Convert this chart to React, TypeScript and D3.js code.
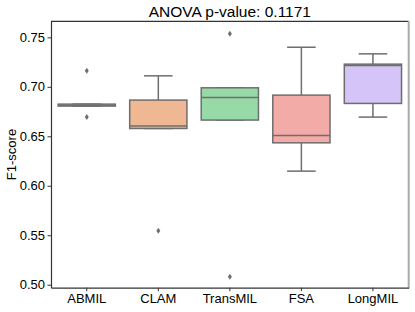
import React, { useRef, useEffect } from 'react';
import * as d3 from 'd3';

// Box statistics
const models = ['ABMIL', 'CLAM', 'TransMIL', 'FSA', 'LongMIL'];
const q1 = [0.6806, 0.6579, 0.6664, 0.6434, 0.6832];
const medians = [0.6812, 0.6603, 0.6892, 0.6508, 0.7215];
const q3 = [0.6825, 0.6866, 0.699, 0.6916, 0.7229];
const whiskerLow = [0.6806, 0.6579, 0.6664, 0.6148, 0.6694];
const whiskerHigh = [0.6825, 0.7111, 0.699, 0.740, 0.7333];
const outliers = [[0.7162, 0.6694], [0.5545], [0.7536, 0.5081], [], []];
const yTicks = [0.5, 0.55, 0.6, 0.65, 0.7, 0.75];

// seaborn pastel, desaturated at 0.75
const boxColors = ['#abc9ea', '#efb792', '#98daa7', '#f3aba8', '#d4c4f7'];
const lineColor = '#6e6e6e';

const App = () => {
  const svgRef = useRef<SVGSVGElement | null>(null);
  const width = 415;
  const height = 312;

  useEffect(() => {
    if (!svgRef.current) return;
    const svg = d3.select(svgRef.current);
    svg.selectAll('*').remove();

    const left = 51, right = 408.7, top = 21.3, bottom = 287.7;
    const font = 'Liberation Sans, Arial, sans-serif';

    const x = d3.scaleBand().domain(models).range([left, right]).padding(0);
    const y = d3.scaleLinear().domain([0.497, 0.7662]).range([bottom, top]);
    const boxW = x.bandwidth() * 0.8;

    const stats = models.map((m, i) => ({
      name: m, q1: q1[i], med: medians[i], q3: q3[i],
      lo: whiskerLow[i], hi: whiskerHigh[i], out: outliers[i], color: boxColors[i],
    }));

    // axes frame
    svg.append('line').attr('x1', left).attr('x2', right).attr('y1', top).attr('y2', top)
      .attr('stroke', '#333').attr('stroke-width', 1.2);
    svg.append('line').attr('x1', right).attr('x2', right).attr('y1', top).attr('y2', bottom)
      .attr('stroke', '#aaa').attr('stroke-width', 2);

    // boxes
    stats.forEach(d => {
      const cx = x(d.name)! + x.bandwidth() / 2;
      const g = svg.append('g');
      // whiskers
      g.append('line').attr('x1', cx).attr('x2', cx).attr('y1', y(d.q3)).attr('y2', y(d.hi))
        .attr('stroke', lineColor).attr('stroke-width', 1.5);
      g.append('line').attr('x1', cx).attr('x2', cx).attr('y1', y(d.q1)).attr('y2', y(d.lo))
        .attr('stroke', lineColor).attr('stroke-width', 1.5);
      // caps
      [d.lo, d.hi].forEach(v => {
        g.append('line').attr('x1', cx - boxW / 4).attr('x2', cx + boxW / 4)
          .attr('y1', y(v)).attr('y2', y(v))
          .attr('stroke', lineColor).attr('stroke-width', 1.5);
      });
      g.append('rect')
        .attr('x', cx - boxW / 2).attr('width', boxW)
        .attr('y', y(d.q3)).attr('height', Math.max(0.5, y(d.q1) - y(d.q3)))
        .attr('fill', d.color).attr('stroke', lineColor).attr('stroke-width', 1.5);
      g.append('line').attr('x1', cx - boxW / 2).attr('x2', cx + boxW / 2)
        .attr('y1', y(d.med)).attr('y2', y(d.med))
        .attr('stroke', lineColor).attr('stroke-width', 1.5);
      // outliers as thin diamonds
      d.out.forEach(v => {
        const py = y(v);
        g.append('path')
          .attr('d', `M${cx},${py - 3} L${cx + 2},${py} L${cx},${py + 3} L${cx - 2},${py} Z`)
          .attr('fill', lineColor);
      });
    });

    // left axis
    const yAxis = svg.append('g').attr('transform', `translate(${left},0)`)
      .call(d3.axisLeft(y).tickValues(yTicks).tickFormat(d3.format('.2f')).tickSize(3.5).tickSizeOuter(0));
    yAxis.select('.domain').attr('stroke', '#333').attr('stroke-width', 1.2);
    yAxis.selectAll('.tick line').attr('stroke', '#333');
    yAxis.selectAll('.tick text').attr('font-family', font).attr('font-size', 13)
      .attr('fill', '#000').attr('x', -6);

    // bottom axis
    const xAxis = svg.append('g').attr('transform', `translate(0,${bottom})`)
      .call(d3.axisBottom(x).tickSize(3.5).tickSizeOuter(0));
    xAxis.select('.domain').attr('stroke', '#333').attr('stroke-width', 1.2);
    xAxis.selectAll('.tick line').attr('stroke', '#333');
    xAxis.selectAll('.tick text').attr('font-family', font).attr('font-size', 13)
      .attr('fill', '#000').attr('y', 6);

    // title and y label
    svg.append('text')
      .attr('x', (left + right) / 2).attr('y', 16.5)
      .attr('text-anchor', 'middle').attr('font-family', font).attr('font-size', 15.5)
      .text('ANOVA p-value: 0.1171');

    svg.append('text')
      .attr('transform', `translate(16,${(top + bottom) / 2}) rotate(-90)`)
      .attr('text-anchor', 'middle').attr('font-family', font).attr('font-size', 13)
      .text('F1-score');
  }, []);

  return (
    <svg ref={svgRef} width={width} height={height}
      style={{ position: 'absolute', left: 0, top: 0, background: '#fff' }} />
  );
};

export default App;
